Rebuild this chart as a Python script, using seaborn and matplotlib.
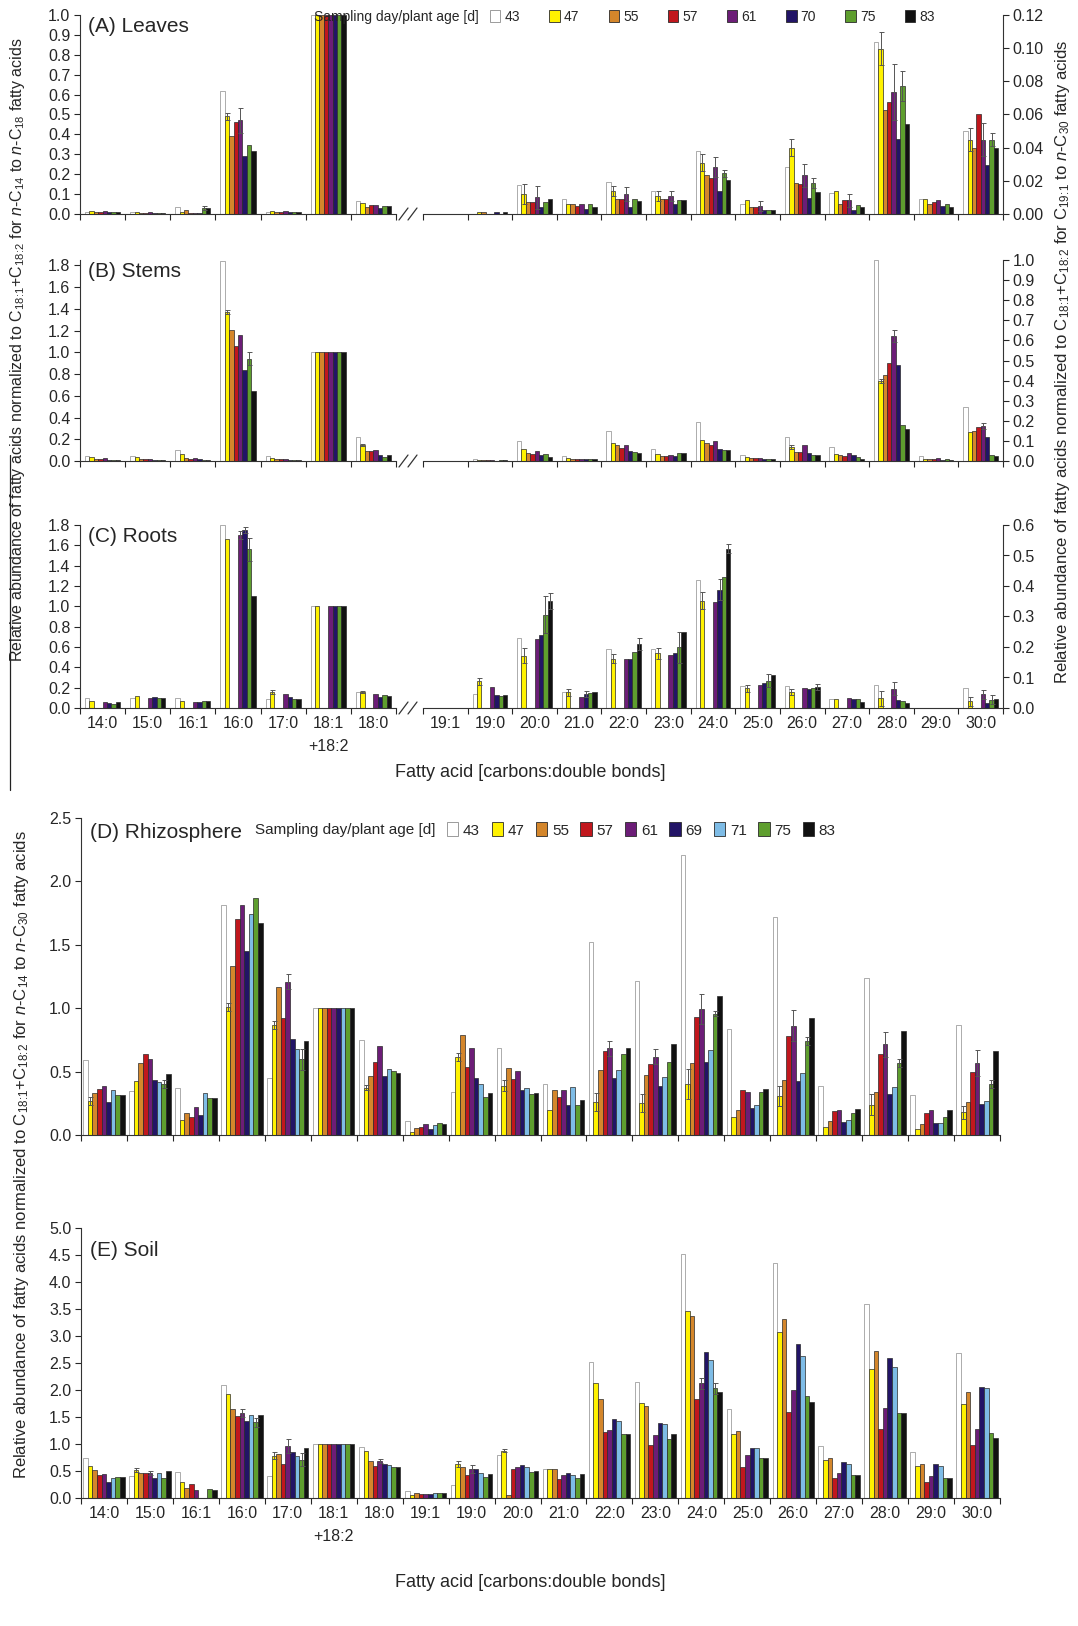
import numpy as np
import pandas as pd
import matplotlib
matplotlib.use("Agg")
import matplotlib.pyplot as plt
from matplotlib.patches import Patch
from matplotlib.lines import Line2D
import seaborn as sns

sns.set_theme(style="ticks")
plt.rcParams['font.family'] = ['Liberation Sans', 'DejaVu Sans']
plt.rcParams['mathtext.fontset'] = 'custom'
plt.rcParams['mathtext.rm'] = 'Liberation Sans'
plt.rcParams['mathtext.it'] = 'Liberation Sans:italic'

# ---------------- data ----------------
CATS_C14_C18 = ["14:0", "15:0", "16:1", "16:0", "17:0", "18:1\n+18:2", "18:0"]
CATS_C19_C30 = ["19:1", "19:0", "20:0", "21.0", "22:0", "23:0", "24:0",
                "25:0", "26:0", "27:0", "28:0", "29:0", "30:0"]
CATS_SOIL = ["14:0", "15:0", "16:1", "16:0", "17:0", "18:1\n+18:2", "18:0",
             "19:1", "19:0", "20:0", "21:0", "22:0", "23:0", "24:0",
             "25:0", "26:0", "27:0", "28:0", "29:0", "30:0"]

DAYS_PLANT = ["43", "47", "55", "57", "61", "70", "75", "83"]
DAYS_SOIL = ["43", "47", "55", "57", "61", "69", "71", "75", "83"]
COLORS_PLANT = ["#FFFFFF", "#FFF200", "#D4862B", "#C1171D", "#6C1D77",
                "#221466", "#5E9E2E", "#111111"]
COLORS_SOIL = ["#FFFFFF", "#FFF200", "#D4862B", "#C1171D", "#6C1D77",
               "#221466", "#7EBCE6", "#5E9E2E", "#111111"]

LEAVES_C14_C18 = [
    [0.012, 0.015, 0.010, 0.012, 0.015, 0.008, 0.012, 0.010],
    [0.008, 0.012, 0.006, 0.006, 0.010, 0.004, 0.005, 0.005],
    [0.035, 0.012, 0.020, 0.006, 0.006, 0.006, 0.030, 0.028],
    [0.62, 0.49, 0.39, 0.46, 0.47, 0.29, 0.345, 0.315],
    [0.012, 0.015, 0.010, 0.012, 0.015, 0.008, 0.010, 0.008],
    [1.0, 1.0, 1.0, 1.0, 1.0, 1.0, 1.0, 1.0],
    [0.065, 0.055, 0.035, 0.045, 0.045, 0.028, 0.040, 0.040],
]
LEAVES_C19_C30 = [
    [0.0, 0.0, 0.0, 0.0, 0.0, 0.0, 0.0, 0.0],
    [0.0, 0.0015, 0.0015, 0.0, 0.0, 0.0015, 0.0, 0.0015],
    [0.0173, 0.012, 0.0073, 0.0073, 0.010, 0.0044, 0.007, 0.0092],
    [0.0092, 0.006, 0.006, 0.005, 0.006, 0.003, 0.006, 0.0045],
    [0.019, 0.014, 0.0088, 0.0088, 0.012, 0.0044, 0.0092, 0.0077],
    [0.0137, 0.011, 0.0088, 0.0088, 0.011, 0.0063, 0.0083, 0.0083],
    [0.038, 0.031, 0.0237, 0.0217, 0.0285, 0.014, 0.0246, 0.0204],
    [0.0063, 0.0083, 0.0044, 0.0044, 0.005, 0.0025, 0.0025, 0.0025],
    [0.0285, 0.040, 0.0188, 0.0179, 0.0233, 0.0096, 0.0188, 0.013],
    [0.0125, 0.0137, 0.0063, 0.0083, 0.0083, 0.0025, 0.0054, 0.0044],
    [0.1035, 0.0996, 0.063, 0.0673, 0.0737, 0.045, 0.077, 0.054],
    [0.0092, 0.0092, 0.0063, 0.007, 0.0083, 0.005, 0.006, 0.0044],
    [0.050, 0.0448, 0.040, 0.060, 0.0448, 0.0294, 0.0448, 0.040],
]
STEMS_C14_C18 = [
    [0.05, 0.035, 0.02, 0.015, 0.03, 0.005, 0.01, 0.01],
    [0.045, 0.035, 0.02, 0.02, 0.02, 0.012, 0.01, 0.012],
    [0.10, 0.065, 0.03, 0.015, 0.03, 0.015, 0.01, 0.01],
    [1.84, 1.37, 1.21, 1.06, 1.16, 0.84, 0.94, 0.645],
    [0.045, 0.03, 0.015, 0.015, 0.02, 0.01, 0.008, 0.01],
    [1.0, 1.0, 1.0, 1.0, 1.0, 1.0, 1.0, 1.0],
    [0.22, 0.145, 0.09, 0.09, 0.105, 0.055, 0.04, 0.055],
]
STEMS_C19_C30 = [
    [0.0, 0.0, 0.0, 0.0, 0.0, 0.0, 0.0, 0.0],
    [0.008, 0.005, 0.004, 0.004, 0.003, 0.002, 0.003, 0.004],
    [0.10, 0.06, 0.04, 0.035, 0.048, 0.03, 0.035, 0.02],
    [0.025, 0.015, 0.012, 0.012, 0.012, 0.01, 0.008, 0.008],
    [0.15, 0.09, 0.08, 0.065, 0.08, 0.05, 0.045, 0.04],
    [0.06, 0.035, 0.025, 0.025, 0.03, 0.025, 0.04, 0.04],
    [0.195, 0.105, 0.09, 0.08, 0.10, 0.06, 0.055, 0.055],
    [0.03, 0.018, 0.015, 0.015, 0.015, 0.012, 0.01, 0.01],
    [0.12, 0.07, 0.045, 0.045, 0.08, 0.04, 0.03, 0.03],
    [0.07, 0.035, 0.03, 0.025, 0.04, 0.03, 0.02, 0.01],
    [1.0, 0.40, 0.43, 0.49, 0.62, 0.48, 0.18, 0.16],
    [0.025, 0.012, 0.012, 0.012, 0.015, 0.005, 0.01, 0.005],
    [0.27, 0.145, 0.15, 0.17, 0.175, 0.12, 0.03, 0.025],
]
NA = np.nan
ROOTS_C14_C18 = [
    [0.10, 0.066, NA, NA, 0.058, 0.052, 0.043, 0.058],
    [0.10, 0.115, NA, NA, 0.095, 0.104, 0.10, 0.095],
    [0.10, 0.066, NA, NA, 0.058, 0.058, 0.072, 0.072],
    [1.80, 1.665, NA, NA, 1.70, 1.75, 1.56, 1.10],
    [0.087, 0.153, NA, NA, 0.138, 0.104, 0.09, 0.09],
    [1.0, 1.0, NA, NA, 1.0, 1.0, 1.0, 1.0],
    [0.161, 0.161, NA, NA, 0.138, 0.11, 0.124, 0.118],
]
ROOTS_C19_C30 = [
    [0.0, 0.0, NA, NA, 0.0, 0.0, 0.0, 0.0],
    [0.047, 0.087, NA, NA, 0.069, 0.042, 0.039, 0.044],
    [0.231, 0.171, NA, NA, 0.226, 0.238, 0.306, 0.35],
    [0.051, 0.051, NA, NA, 0.037, 0.047, 0.049, 0.054],
    [0.192, 0.161, NA, NA, 0.16, 0.16, 0.184, 0.209],
    [0.192, 0.18, NA, NA, 0.173, 0.18, 0.199, 0.249],
    [0.42, 0.352, NA, NA, 0.346, 0.388, 0.43, 0.522],
    [0.073, 0.064, NA, NA, 0.076, 0.083, 0.09, 0.107],
    [0.073, 0.051, NA, NA, 0.064, 0.061, 0.066, 0.069],
    [0.03, 0.03, NA, NA, 0.032, 0.029, 0.03, 0.02],
    [0.076, 0.032, NA, NA, 0.063, 0.027, 0.024, 0.017],
    [0.0, 0.0, NA, NA, 0.0, 0.0, 0.0, 0.0],
    [0.067, 0.022, NA, NA, 0.045, 0.015, 0.027, 0.029],
]
RHIZOSPHERE = [
    [0.589, 0.266, 0.335, 0.36, 0.39, 0.26, 0.355, 0.317, 0.317],
    [0.348, 0.424, 0.571, 0.64, 0.596, 0.437, 0.416, 0.40, 0.482],
    [0.373, 0.118, 0.17, 0.14, 0.22, 0.16, 0.335, 0.29, 0.29],
    [1.81, 1.01, 1.33, 1.70, 1.81, 1.45, 1.74, 1.87, 1.67],
    [0.45, 0.868, 1.167, 0.924, 1.21, 0.76, 0.678, 0.596, 0.741],
    [1.0, 1.0, 1.0, 1.0, 1.0, 1.0, 1.0, 1.0, 1.0],
    [0.746, 0.373, 0.462, 0.576, 0.703, 0.462, 0.518, 0.508, 0.487],
    [0.11, 0.026, 0.052, 0.066, 0.087, 0.047, 0.079, 0.092, 0.087],
    [0.343, 0.614, 0.79, 0.533, 0.685, 0.449, 0.40, 0.297, 0.33],
    [0.69, 0.39, 0.53, 0.44, 0.508, 0.353, 0.373, 0.322, 0.335],
    [0.40, 0.20, 0.353, 0.297, 0.353, 0.234, 0.378, 0.234, 0.277],
    [1.52, 0.26, 0.513, 0.665, 0.683, 0.449, 0.513, 0.64, 0.69],
    [1.216, 0.254, 0.475, 0.556, 0.619, 0.386, 0.454, 0.576, 0.716],
    [2.21, 0.40, 0.569, 0.931, 0.995, 0.576, 0.673, 0.957, 1.096],
    [0.835, 0.14, 0.197, 0.353, 0.343, 0.213, 0.234, 0.34, 0.36],
    [1.72, 0.31, 0.437, 0.784, 0.863, 0.429, 0.492, 0.741, 0.926],
    [0.386, 0.065, 0.11, 0.19, 0.20, 0.105, 0.118, 0.17, 0.208],
    [1.236, 0.24, 0.34, 0.64, 0.716, 0.327, 0.378, 0.569, 0.817],
    [0.315, 0.047, 0.09, 0.17, 0.197, 0.097, 0.097, 0.14, 0.20],
    [0.868, 0.18, 0.264, 0.495, 0.569, 0.241, 0.272, 0.40, 0.665],
]
SOIL = [
    [0.732, 0.596, 0.515, 0.419, 0.439, 0.303, 0.369, 0.394, 0.389],
    [0.404, 0.515, 0.47, 0.455, 0.465, 0.379, 0.455, 0.379, 0.505],
    [0.48, 0.303, 0.177, 0.253, 0.152, 0.0, 0.0, 0.162, 0.152],
    [2.096, 1.93, 1.65, 1.525, 1.576, 1.424, 1.54, 1.404, 1.54],
    [0.404, 0.783, 0.808, 0.631, 0.96, 0.843, 0.783, 0.707, 0.934],
    [1.0, 1.0, 1.0, 1.0, 1.0, 1.0, 1.0, 1.0, 1.0],
    [0.95, 0.874, 0.692, 0.596, 0.682, 0.631, 0.616, 0.566, 0.581],
    [0.136, 0.05, 0.09, 0.076, 0.076, 0.076, 0.10, 0.085, 0.09],
    [0.237, 0.631, 0.581, 0.419, 0.54, 0.53, 0.455, 0.394, 0.439],
    [0.798, 0.874, 0.05, 0.53, 0.581, 0.611, 0.581, 0.48, 0.505],
    [0.53, 0.545, 0.545, 0.354, 0.43, 0.47, 0.42, 0.364, 0.44],
    [2.525, 2.13, 1.833, 1.222, 1.263, 1.465, 1.424, 1.187, 1.187],
    [2.157, 1.758, 1.702, 0.985, 1.162, 1.389, 1.364, 1.096, 1.187],
    [4.51, 3.46, 3.369, 1.833, 2.121, 2.702, 2.56, 2.03, 1.955],
    [1.641, 1.187, 1.237, 0.581, 0.793, 0.934, 0.934, 0.742, 0.742],
    [4.343, 3.07, 3.318, 1.601, 1.995, 2.854, 2.636, 1.894, 1.783],
    [0.97, 0.697, 0.732, 0.364, 0.465, 0.672, 0.631, 0.429, 0.419],
    [3.60, 2.389, 2.727, 1.278, 1.667, 2.591, 2.434, 1.566, 1.576],
    [0.843, 0.596, 0.631, 0.288, 0.404, 0.631, 0.596, 0.379, 0.379],
    [2.687, 1.732, 1.97, 0.985, 1.273, 2.06, 2.045, 1.202, 1.111],
]

# error bars: (category index, day) -> half-width
ERR_LEAVES_C14_C18 = {(3, "47"): 0.02, (3, "61"): 0.065, (2, "75"): 0.012}
ERR_LEAVES_C19_C30 = {(2, "47"): 0.006, (2, "61"): 0.007, (4, "47"): 0.003,
                      (4, "61"): 0.004, (5, "47"): 0.003, (5, "61"): 0.003,
                      (6, "47"): 0.005, (6, "61"): 0.006, (6, "75"): 0.002,
                      (7, "61"): 0.003, (8, "47"): 0.005, (8, "61"): 0.007,
                      (8, "75"): 0.003, (9, "61"): 0.004, (10, "47"): 0.01,
                      (10, "61"): 0.017, (10, "75"): 0.009, (12, "47"): 0.007,
                      (12, "61"): 0.01, (12, "75"): 0.004}
ERR_STEMS_C14_C18 = {(3, "47"): 0.02, (3, "75"): 0.06, (6, "47"): 0.01}
ERR_STEMS_C19_C30 = {(10, "61"): 0.03, (10, "47"): 0.01, (12, "61"): 0.015,
                     (8, "47"): 0.01}
ERR_ROOTS_C14_C18 = {(3, "61"): 0.04, (3, "70"): 0.03, (3, "75"): 0.11,
                     (4, "47"): 0.02, (6, "47"): 0.01}
ERR_ROOTS_C19_C30 = {(1, "47"): 0.01, (2, "47"): 0.025, (2, "75"): 0.06,
                     (2, "83"): 0.027, (3, "47"): 0.012, (3, "70"): 0.01,
                     (4, "47"): 0.015, (4, "83"): 0.02, (5, "47"): 0.018,
                     (5, "75"): 0.05, (6, "47"): 0.028, (6, "70"): 0.035,
                     (6, "83"): 0.015, (7, "47"): 0.01, (7, "75"): 0.02,
                     (8, "47"): 0.01, (8, "83"): 0.01, (10, "47"): 0.025,
                     (10, "61"): 0.021, (12, "47"): 0.015, (12, "61"): 0.015,
                     (12, "75"): 0.015}
ERR_RHIZOSPHERE = {(0, "47"): 0.03, (1, "75"): 0.03, (3, "47"): 0.03,
                   (4, "47"): 0.03, (4, "61"): 0.06, (4, "75"): 0.08,
                   (6, "47"): 0.02, (8, "47"): 0.03, (9, "47"): 0.04,
                   (11, "47"): 0.07, (11, "61"): 0.06, (12, "47"): 0.07,
                   (12, "61"): 0.06, (13, "47"): 0.12, (13, "61"): 0.12,
                   (13, "75"): 0.02, (15, "47"): 0.08, (15, "61"): 0.12,
                   (15, "75"): 0.03, (17, "47"): 0.08, (17, "61"): 0.1,
                   (17, "75"): 0.03, (19, "47"): 0.05, (19, "61"): 0.1,
                   (19, "75"): 0.03}
ERR_SOIL = {(1, "47"): 0.04, (1, "61"): 0.04, (3, "61"): 0.07, (3, "75"): 0.08,
            (4, "47"): 0.06, (4, "61"): 0.13, (4, "75"): 0.12, (6, "61"): 0.04,
            (8, "47"): 0.05, (8, "61"): 0.07, (9, "47"): 0.03, (13, "61"): 0.1,
            (13, "75"): 0.1}

NORM = r"normalized to C$_{\mathrm{18\!:\!1}}$+C$_{\mathrm{18\!:\!2}}$"
YLAB_PLANT_L = ("Relative abundance of fatty acids " + NORM +
                r" for $\it{n}$-C$_{\mathrm{14}}$ to $\it{n}$-C$_{\mathrm{18}}$ fatty acids")
YLAB_PLANT_R = ("Relative abundance of fatty acids " + NORM +
                r" for C$_{\mathrm{19\!:\!1}}$ to $\it{n}$-C$_{\mathrm{30}}$ fatty acids")
YLAB_SOIL = ("Relative abundance of fatty acids " + NORM +
             r" for $\it{n}$-C$_{\mathrm{14}}$ to $\it{n}$-C$_{\mathrm{30}}$ fatty acids")
XLAB = "Fatty acid [carbons:double bonds]"

# ---------------- figure ----------------
W, H = 1078, 1626
fig = plt.figure(figsize=(W / 100, H / 100), dpi=100)
TICK_FS = 11.5


def add_ax(x0, y_top, x1, y_bot):
    return fig.add_axes([x0 / W, 1 - y_bot / H, (x1 - x0) / W, (y_bot - y_top) / H])


def fx(x):
    return x / W


def fy(y):
    return 1 - y / H


def draw_bars(ax, cats, days, values, colors, errs, width, ylim, ystep, fmt,
              side="left", show_labels=True):
    df = pd.DataFrame(values, index=cats, columns=days)
    df = df.reset_index(names="acid").melt(id_vars="acid", var_name="day",
                                           value_name="value")
    sns.barplot(data=df, x="acid", y="value", hue="day", order=cats,
                hue_order=days, palette=colors, width=width, saturation=1,
                errorbar=None, edgecolor="#2a2a2a", linewidth=0.5,
                legend=False, ax=ax)
    for cont, day in zip(ax.containers, days):
        for p in cont.patches:
            if day == "43":
                p.set_edgecolor("#8c8c8c")
            ci = int(round(p.get_x() + p.get_width() / 2))
            e = errs.get((ci, day))
            if e and np.isfinite(p.get_height()):
                ax.errorbar(p.get_x() + p.get_width() / 2, p.get_height(),
                            yerr=e, color="#555555", lw=0.7, capsize=1.8,
                            capthick=0.7, zorder=3)
    ax.set_xlim(-0.5, len(cats) - 0.5)
    ax.set_ylim(*ylim)
    ax.set_yticks(np.arange(0, ylim[1] + 1e-9, ystep))
    ax.yaxis.set_major_formatter(matplotlib.ticker.FormatStrFormatter(fmt))
    ax.set_xticks(range(len(cats)))
    ax.set_xticks(np.arange(-0.5, len(cats)), minor=True)
    ax.tick_params(axis="x", which="major", length=0, pad=6, labelsize=TICK_FS)
    ax.tick_params(axis="x", which="minor", length=4, width=0.8, direction="out")
    ax.tick_params(axis="y", length=4, width=0.8, labelsize=TICK_FS, pad=3)
    if show_labels:
        ax.set_xticklabels(cats, linespacing=1.6)
    else:
        ax.set_xticklabels([])
    ax.set_xlabel("")
    ax.set_ylabel("")
    ax.patch.set_alpha(0)
    for s in ax.spines.values():
        s.set_linewidth(0.8)
        s.set_color("#333333")
    if side == "left":
        sns.despine(ax=ax)
    else:
        sns.despine(ax=ax, left=True, right=False)
        ax.yaxis.tick_right()


def break_marks(y):
    for x0 in (399, 408):
        fig.add_artist(Line2D([fx(x0), fx(x0 + 9)], [fy(y + 6), fy(y - 6)],
                              color="#333333", lw=0.9))


panels_plant = [
    ("(A) Leaves", LEAVES_C14_C18, LEAVES_C19_C30, ERR_LEAVES_C14_C18, ERR_LEAVES_C19_C30,
     15, 214, (0, 1.0), 0.1, "%.1f", (0, 0.12), 0.02, "%.2f", False),
    ("(B) Stems", STEMS_C14_C18, STEMS_C19_C30, ERR_STEMS_C14_C18, ERR_STEMS_C19_C30,
     260, 461, (0, 1.85), 0.2, "%.1f", (0, 1.0), 0.1, "%.1f", False),
    ("(C) Roots", ROOTS_C14_C18, ROOTS_C19_C30, ERR_ROOTS_C14_C18, ERR_ROOTS_C19_C30,
     525, 708, (0, 1.8), 0.2, "%.1f", (0, 0.6), 0.1, "%.1f", True),
]
for (title, vl, vr, el, er, top, bot, yl, sl, fl, yr, sr, fr, lab) in panels_plant:
    axl = add_ax(80, top, 396, bot)
    axr = add_ax(423, top, 1003, bot)
    draw_bars(axl, CATS_C14_C18, DAYS_PLANT, vl, COLORS_PLANT, el, 0.78, yl, sl, fl,
              "left", lab)
    draw_bars(axr, CATS_C19_C30, DAYS_PLANT, vr, COLORS_PLANT, er, 0.78, yr, sr, fr,
              "right", lab)
    axl.text(0.025, 0.99, title, transform=axl.transAxes, ha="left", va="top",
             fontsize=15)
    break_marks(bot)

ax_d = add_ax(81, 818, 1000, 1135)
draw_bars(ax_d, CATS_SOIL, DAYS_SOIL, RHIZOSPHERE, COLORS_SOIL, ERR_RHIZOSPHERE,
          0.9, (0, 2.5), 0.5, "%.1f", "left", False)
ax_d.text(0.01, 0.985, "(D) Rhizosphere", transform=ax_d.transAxes, ha="left",
          va="top", fontsize=15)

ax_e = add_ax(81, 1228, 1000, 1498)
draw_bars(ax_e, CATS_SOIL, DAYS_SOIL, SOIL, COLORS_SOIL, ERR_SOIL,
          0.9, (0, 5.0), 0.5, "%.1f", "left", True)
ax_e.text(0.01, 0.95, "(E) Soil", transform=ax_e.transAxes, ha="left",
          va="top", fontsize=15)


# legends
def legend_row(ax, days, colors, x_text, x_leg, y, size, colspace):
    fig.text(fx(x_text), fy(y), "Sampling day/plant age [d]", ha="left",
             va="center", fontsize=size)
    handles = [Patch(facecolor=c, edgecolor="#8c8c8c" if d == "43" else "#2a2a2a",
                     linewidth=0.6) for d, c in zip(days, colors)]
    leg = ax.legend(handles, days, ncol=len(days), frameon=False,
                    loc="center left", bbox_to_anchor=(fx(x_leg), fy(y)),
                    bbox_transform=fig.transFigure, handlelength=0.75,
                    handleheight=1.0, handletextpad=0.3, columnspacing=colspace,
                    borderpad=0, borderaxespad=0, prop={"size": size})
    return leg


legend_row(fig.axes[0], DAYS_PLANT, COLORS_PLANT, 314, 490, 17, 10, 2.1)
legend_row(ax_d, DAYS_SOIL, COLORS_SOIL, 255, 447, 830, 11, 0.75)

# axis titles
fig.text(fx(18), fy(350), YLAB_PLANT_L, rotation=90, ha="center", va="center",
         fontsize=11.5)
fig.text(fx(1062), fy(362), YLAB_PLANT_R, rotation=90, ha="center", va="center",
         fontsize=12)
fig.text(fx(22), fy(1155), YLAB_SOIL, rotation=90, ha="center", va="center",
         fontsize=12)
fig.text(fx(530), fy(772), XLAB, ha="center", va="center", fontsize=13)
fig.text(fx(530), fy(1582), XLAB, ha="center", va="center", fontsize=13)
fig.add_artist(Line2D([fx(10), fx(10)], [fy(455), fy(790)], color="#222222", lw=0.9))

fig.savefig("out.png", dpi=100, facecolor="white")
